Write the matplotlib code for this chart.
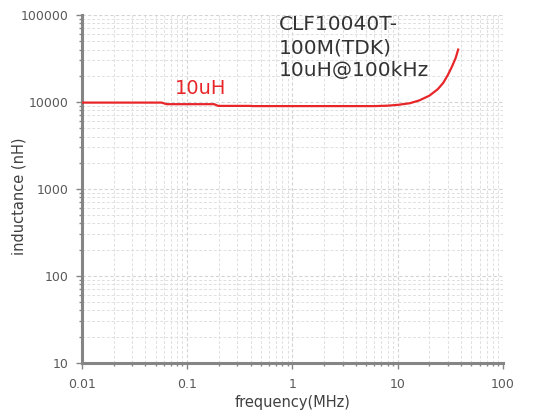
import matplotlib
matplotlib.use('Agg')
import matplotlib.pyplot as plt
import matplotlib.ticker as mticker

plt.rcParams['font.family'] = ['DejaVu Sans']

# 电感-频率特性 (CLF10040T-100M)
freq_mhz = [0.01, 0.03, 0.057, 0.064, 0.12, 0.18, 0.197, 0.3, 0.395, 0.42,
            1.0, 3.0, 6.0, 8.0, 10.0, 13.0, 16.0, 20.0, 24.0, 27.0,
            30.0, 33.0, 35.5, 37.5]
inductance_nh = [9820, 9820, 9820, 9420, 9420, 9420, 9000, 9000, 9000, 8950,
                 8950, 8950, 8950, 9050, 9250, 9650, 10400, 11800, 14000, 16500,
                 20500, 26000, 32000, 40000]

curve_label = '10uH'
part_note = 'CLF10040T-\n100M(TDK)\n10uH@100kHz'
x_ticks = [0.01, 0.1, 1, 10, 100]
x_tick_labels = ['0.01', '0.1', '1', '10', '100']
y_ticks = [10, 100, 1000, 10000, 100000]
y_tick_labels = ['10', '100', '1000', '10000', '100000']

fig = plt.figure(figsize=(5.33, 4.15), dpi=100)
ax = fig.add_axes([0.1538, 0.126, 0.7899, 0.8379])

ax.plot(freq_mhz, inductance_nh, color='#e8262a', lw=1.6, zorder=3)

ax.set_xscale('log')
ax.set_yscale('log')
ax.set_xlim(0.01, 100)
ax.set_ylim(10, 100000)

ax.set_xticks(x_ticks)
ax.set_xticklabels(x_tick_labels)
ax.set_yticks(y_ticks)
ax.set_yticklabels(y_tick_labels)
ax.xaxis.set_minor_locator(mticker.LogLocator(base=10, subs=range(2, 10)))
ax.yaxis.set_minor_locator(mticker.LogLocator(base=10, subs=range(2, 10)))
ax.xaxis.set_minor_formatter(mticker.NullFormatter())
ax.yaxis.set_minor_formatter(mticker.NullFormatter())

# 网格：主次刻度都画虚线
ax.grid(which='major', color='#d4d4d4', linestyle=(0, (3, 2)), lw=0.8)
ax.grid(which='minor', color='#e0e0e0', linestyle=(0, (3, 2)), lw=0.7)
ax.set_axisbelow(True)

for side in ('top', 'right'):
    ax.spines[side].set_visible(False)
for side in ('left', 'bottom'):
    ax.spines[side].set_color('#858585')
    ax.spines[side].set_linewidth(2.2)

ax.tick_params(which='major', length=4, width=1, color='#858585',
               labelsize=9, labelcolor='#595959')
ax.tick_params(which='minor', length=2.5, width=1, color='#858585')
ax.tick_params(axis='x', which='major', pad=7)
ax.tick_params(axis='y', which='major', pad=6)

ax.set_xlabel('frequency(MHz)', fontsize=10.5, color='#404040', labelpad=3)
ax.set_ylabel('inductance (nH)', fontsize=10.5, color='#404040')
ax.yaxis.set_label_coords(-0.131, 0.479)

ax.text(0.221, 0.773, curve_label, transform=ax.transAxes, fontsize=14,
        color='#e8262a', va='baseline', ha='left')
ax.text(0.468, 1.0, part_note, transform=ax.transAxes, fontsize=14.5,
        color='#333333', va='top', ha='left', linespacing=1.27)

fig.savefig('out.png', dpi=100)
